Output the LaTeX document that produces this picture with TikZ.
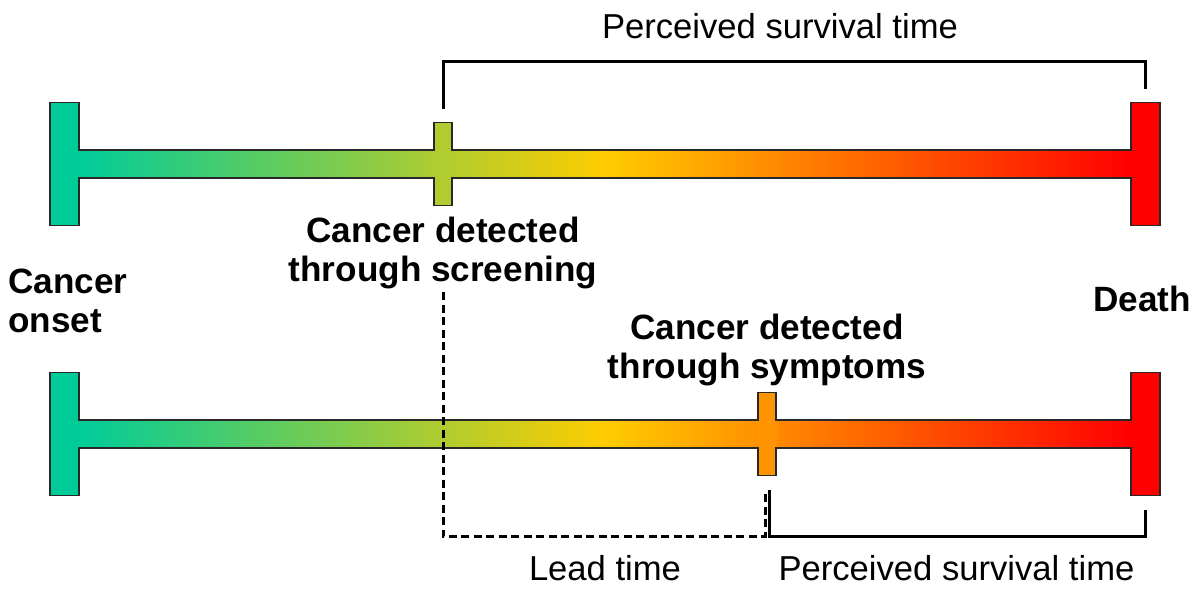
\documentclass[tikz,border=0pt]{standalone}
\usepackage{fontspec}
\setmainfont{Liberation Sans}
\usepackage{tikz}
\usetikzlibrary{calc}
\definecolor{onset}{RGB}{0,204,153}
\definecolor{midyel}{RGB}{255,204,0}
\definecolor{dead}{RGB}{255,0,0}
\definecolor{scrc}{RGB}{176,204,47}
\definecolor{symc}{RGB}{255,148,0}
\definecolor{edge}{RGB}{40,40,40}
\pgfdeclarehorizontalshading{lifeshade}{100bp}{color(0bp)=(onset); color(25bp)=(onset); color(50bp)=(midyel); color(75bp)=(dead); color(100bp)=(dead)}
\tikzset{
	endbox/.style={draw=edge, line width=0.03cm, inner sep=0, minimum width=0.58cm, minimum height=2.46cm},
	hitbox/.style={draw=edge, line width=0.03cm, inner sep=0, minimum width=0.36cm, minimum height=1.66cm},
	lifebar/.style={draw=edge, line width=0.03cm, shading=lifeshade},
	evt/.style={font=\fontsize{20}{22.2}\selectfont\bfseries, align=center, inner sep=0},
	spanlbl/.style={font=\fontsize{19.7}{22}\selectfont, inner sep=0},
	brk/.style={line width=0.06cm},
	leadline/.style={line width=0.06cm, dash pattern=on 0.16cm off 0.09cm},
}

\begin{document}
\begin{tikzpicture}[x=0.02cm, y=-0.02cm]
	\useasboundingbox (0,0) rectangle (1200,600);
	% the two time lines
	\foreach \y in {150,420}
		\draw [lifebar] (79,\y) rectangle (1131,\y+28);
	\node [endbox, fill=onset] (ons1) at (64.5,164) {};
	\node [endbox, fill=dead] (dth1) at (1145.5,164) {};
	\node [endbox, fill=onset] (ons2) at (64.5,434) {};
	\node [endbox, fill=dead] (dth2) at (1145.5,434) {};
	\node [hitbox, fill=scrc] (scr) at (443,164) {};
	\node [hitbox, fill=symc] (sym) at (767,434) {};
	% hide the seams
	\foreach \d in {0,270} {
		\fill [onset] (77.5,150.8+\d) rectangle (80.5,177.2+\d);
		\fill [dead] (1129.5,150.8+\d) rectangle (1132.5,177.2+\d);
	}
	\fill [scrc] (433,150.8) rectangle (453,177.2);
	\fill [scrc] (434.8,149) rectangle (451.2,179);
	\fill [symc] (757,420.8) rectangle (777,447.2);
	\fill [symc] (758.8,419) rectangle (775.2,449);
	% brackets
	\draw [brk] ([yshift=0.26cm]scr.north) -- ++(0,-47) -| ([yshift=0.26cm]dth1.north);
	\draw [leadline] (scr.south) ++(0,86) |- ([xshift=-0.04cm,yshift=-1.2cm]sym.south) -- ++(0,-46);
	\draw [brk] ([xshift=0.04cm,yshift=-0.28cm]sym.south) -- ++(0,46) -| ([yshift=-0.28cm]dth2.south);
	% labels
	\node [spanlbl, anchor=north] (pst1) at (780,13) {Perceived survival time};
	\node [evt, anchor=north] (scrlbl) at (443,217) {Cancer detected\\through screening};
	\node [evt, anchor=north west, align=left] (onslbl) at (8,269) {Cancer\\onset};
	\node [evt, anchor=north] (dthlbl) at (1142,286) {Death};
	\node [evt, anchor=north] (symlbl) at (767,314) {Cancer detected\\through symptoms};
	\node [spanlbl, anchor=north] (leadlbl) at (605,555) {Lead time};
	\node [spanlbl, anchor=north] (pst2) at (956.5,555) {Perceived survival time};
\end{tikzpicture}
\end{document}
